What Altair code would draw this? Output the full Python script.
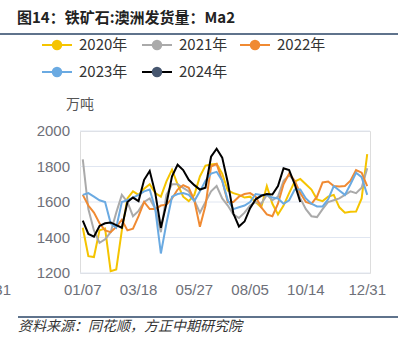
import altair as alt
import pandas as pd

# ---- data (weekly, 52 points per year) ----
series_names = ["2020年", "2021年", "2022年", "2023年", "2024年"]
line_colors = ["#F5C400", "#AAAAAA", "#F08A32", "#6AAAE2", "#000000"]
dot_colors = ["#F5C400", "#AAAAAA", "#F08A32", "#6AAAE2", "#46566F"]

y2020 = [1455, 1295, 1290, 1440, 1450, 1210, 1220, 1440, 1620, 1660,
         1640, 1675, 1700, 1650, 1630, 1716, 1782, 1700, 1630, 1605,
         1640, 1744, 1805, 1811, 1815, 1760, 1665, 1650, 1640, 1625,
         1630, 1600, 1570, 1690, 1590, 1530, 1580, 1650, 1715, 1730,
         1700, 1670, 1615, 1605, 1630, 1640, 1570, 1540, 1545, 1546,
         1620, 1870]
y2021 = [1840, 1560, 1440, 1370, 1390, 1430, 1540, 1640, 1600, 1520,
         1550, 1600, 1620, 1560, 1430, 1640, 1700, 1700, 1680, 1660,
         1610, 1540, 1600, 1660, 1690, 1620, 1580, 1530, 1510, 1540,
         1580, 1600, 1590, 1640, 1610, 1630, 1720, 1750, 1720, 1620,
         1560, 1520, 1515, 1560, 1600, 1610, 1620, 1640, 1660, 1650,
         1680, 1790]
y2022 = [1640, 1580, 1540, 1480, 1440, 1430, 1460, 1500, 1440, 1450,
         1520, 1600, 1560, 1560, 1580, 1585, 1620, 1670, 1695, 1680,
         1610, 1460, 1580, 1800, 1815, 1720, 1600, 1600, 1630, 1645,
         1650, 1630, 1570, 1530, 1520, 1590, 1700, 1760, 1720, 1650,
         1600, 1590, 1630, 1710, 1715, 1690, 1688, 1690, 1720, 1780,
         1765, 1690]
y2023 = [1640, 1650, 1630, 1610, 1600, 1480, 1455, 1600, 1610, 1625,
         1640, 1660, 1670, 1560, 1310, 1480, 1630, 1645, 1650, 1640,
         1605, 1660, 1720, 1760, 1770, 1720, 1610, 1560, 1570, 1580,
         1600, 1645, 1640, 1640, 1625, 1620, 1590, 1610, 1670, 1670,
         1620, 1590, 1575, 1575, 1615, 1690, 1665, 1640, 1700, 1765,
         1740, 1640]
y2024 = [1495, 1420, 1405, 1465, 1480, 1485, 1470, 1455, 1600, 1625,
         1605, 1725, 1775, 1650, 1455, 1590, 1745, 1810, 1780, 1725,
         1695, 1670, 1680, 1855, 1900, 1850, 1710, 1535, 1462, 1490,
         1565, 1615, 1635, 1645, 1642, 1690, 1790, 1780, 1700, 1600]
all_values = [y2020, y2021, y2022, y2023, y2024]

x_tick_labels = ["01/07", "03/18", "05/27", "08/05", "10/14", "12/31"]
x_label_index = [0, 10, 20, 30, 40, 51]
x_tick_bounds = [0, 10, 20, 30, 40, 50, 52]
y_ticks = [1200, 1400, 1600, 1800, 2000]

title_text = "图14：铁矿石:澳洲发货量：Ma2"
unit_text = "万吨"
source_text = "资料来源：同花顺，方正中期研究院"

# ---- tables ----
rows = []
for name, vals in zip(series_names, all_values):
    for i, v in enumerate(vals):
        rows.append({"series": name, "pos": i + 0.5, "value": v})
df = pd.DataFrame(rows)

xlab_df = pd.DataFrame({"pos": [i + 0.5 for i in x_label_index], "label": x_tick_labels})
ytick_df = pd.DataFrame({"value": y_ticks, "label": [str(v) for v in y_ticks]})

W, H = 290, 142
xscale = alt.Scale(domain=[0, 52], nice=False, zero=False)
yscale = alt.Scale(domain=[1200, 2000], nice=False, zero=False)

x_axis = alt.Axis(values=x_tick_bounds, labels=False, title=None, grid=False,
                  domainColor="#6E7079", tickColor="#6E7079", tickSize=5, domainWidth=1)

# horizontal grid lines and y labels
grid = alt.Chart(ytick_df).mark_rule(color="#E0E6F1", strokeWidth=1).encode(
    y=alt.Y("value:Q", scale=yscale, axis=None), x=alt.value(0), x2=alt.value(W))
ylabels = alt.Chart(ytick_df).mark_text(
    font="Liberation Sans", fontSize=15, color="#6E7079", align="right", baseline="middle"
).encode(y=alt.Y("value:Q", scale=yscale, axis=None), x=alt.value(-10), text="label:N")

layers = []
for k, (name, col) in enumerate(zip(series_names, line_colors)):
    layers.append(
        alt.Chart(df[df["series"] == name]).mark_line(strokeWidth=2, color=col).encode(
            x=alt.X("pos:Q", scale=xscale, axis=x_axis if k == 0 else None),
            y=alt.Y("value:Q", scale=yscale, axis=None),
            order="pos:Q",
        )
    )

xlabels = alt.Chart(xlab_df).mark_text(
    font="Liberation Sans", fontSize=15, color="#6E7079", baseline="middle", align="center"
).encode(x=alt.X("pos:Q", scale=xscale, axis=None), y=alt.value(159), text="label:N")

one = pd.DataFrame({"a": [0]})

cut_label = alt.Chart(one).mark_text(
    text=x_tick_labels[-1], font="Liberation Sans", fontSize=15, color="#6E7079",
    baseline="middle", align="right"
).encode(x=alt.value(-69), y=alt.value(159))

# legend, drawn item by item (line + dot + label), placed relative to the plot
leg_cx = [-23, 77, 175, -23, 77]
leg_cy = [-86, -86, -86, -59, -59]
legend_layers = []
for name, col, dcol, cx, cy in zip(series_names, line_colors, dot_colors, leg_cx, leg_cy):
    legend_layers.append(alt.Chart(one).mark_rule(color=col, strokeWidth=2).encode(
        x=alt.value(cx - 15), x2=alt.value(cx + 15), y=alt.value(cy)))
    legend_layers.append(alt.Chart(one).mark_point(
        filled=True, size=110, opacity=1, shape="circle", color=dcol
    ).encode(x=alt.value(cx), y=alt.value(cy)))
    legend_layers.append(alt.Chart(one).mark_text(
        text=name, font="Noto Sans CJK SC", fontSize=15, color="#333333",
        align="left", baseline="middle"
    ).encode(x=alt.value(cx + 22), y=alt.value(cy)))

title = alt.Chart(one).mark_text(
    text=title_text, font="Noto Sans CJK SC", fontSize=15, fontWeight="bold",
    color="#222222", align="left", baseline="middle"
).encode(x=alt.value(-63), y=alt.value(-113))
top_line = alt.Chart(one).mark_rule(color="#2A4466", strokeWidth=1.5).encode(
    x=alt.value(-80), x2=alt.value(318), y=alt.value(-97))
unit = alt.Chart(one).mark_text(
    text=unit_text, font="Noto Sans CJK SC", fontSize=14, color="#555555",
    align="center", baseline="middle"
).encode(x=alt.value(0), y=alt.value(-26))
bottom_line = alt.Chart(one).mark_rule(color="#2A4466", strokeWidth=1.5).encode(
    x=alt.value(-62), x2=alt.value(318), y=alt.value(186))
source = alt.Chart(one).mark_text(
    text=source_text, font="Noto Sans CJK SC", fontSize=14, fontStyle="italic",
    color="#333333", align="left", baseline="middle"
).encode(x=alt.value(-62), y=alt.value(196))

chart = alt.layer(
    grid, ylabels, *layers, xlabels, cut_label, *legend_layers,
    title, top_line, unit, bottom_line, source
).properties(
    width=W, height=H,
    autosize=alt.AutoSizeParams(type="none"),
    padding={"left": 80, "top": 131, "right": 33, "bottom": 78},
).configure_view(stroke=None).configure(background="white")

chart.save("out.html", embed_options={"renderer": "svg", "actions": False})
